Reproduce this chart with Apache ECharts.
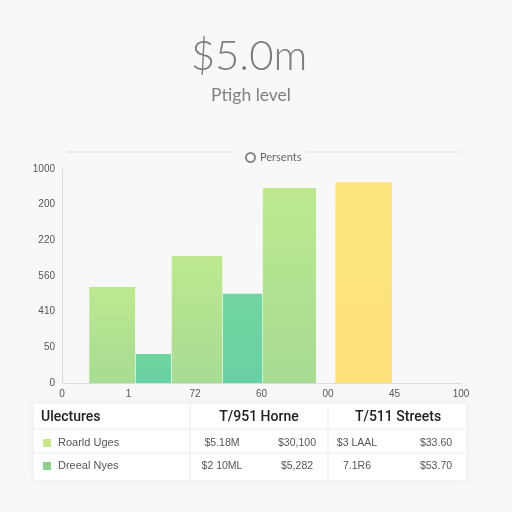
<!DOCTYPE html>
<html>
<head>
<meta charset="utf-8">
<script src="https://cdn.jsdelivr.net/npm/echarts@6/dist/echarts.min.js"></script>
<style>html,body{margin:0;padding:0;background:#f8f8f8}#c{width:512px;height:512px}</style>
</head>
<body>
<div id="c"></div>
<script>
// ---- data ----
const titleText = '$5.0m';
const subtitleText = 'Ptigh level';
const seriesName = 'Persents';
const yTickLabels = ['0', '50', '410', '560', '220', '200', '1000'];
const xTickLabels = ['0', '1', '72', '60', '00', '45', '100'];
const barStart = [0.41, 1.11, 1.65, 2.42, 3.02, 4.11];
const barEnd = [1.10, 1.64, 2.41, 3.01, 3.82, 4.96];
const barValues = [269, 81, 356, 250, 547, 563];
const barKinds = [0, 1, 0, 1, 0, 2];
const tableHeaders = ['Ulectures', 'T/951 Horne', 'T/511 Streets'];
const rowNames = ['Roarld Uges', 'Dreeal Nyes'];
const rowValues = [
  ['$5.18M', '$30,100', '$3 LAAL', '$33.60'],
  ['$2 10ML', '$5,282', '7.1R6', '$53.70']
];
// ---- styles ----
const kindColors = [
  new echarts.graphic.LinearGradient(0, 0, 0, 1, [{offset: 0, color: '#bde88f'}, {offset: 1, color: '#a7dc93'}]),
  new echarts.graphic.LinearGradient(0, 0, 0, 1, [{offset: 0, color: '#70d5a0'}, {offset: 1, color: '#68d0a3'}]),
  new echarts.graphic.LinearGradient(0, 0, 0, 1, [{offset: 0, color: '#fde57e'}, {offset: 1, color: '#fde07a'}])
];
const squareColors = ['#c9e78b', '#8ecf90'];

const chart = echarts.init(document.getElementById('c'));

const data = barValues.map((v, i) => [barStart[i], barEnd[i], v, barKinds[i]]);

const graphics = [];
// title texts
graphics.push({type: 'text', x: 249, y: 56, style: {text: titleText, fontFamily: 'Lato', fontWeight: 300, fontSize: 42, fill: '#7e7e7e', align: 'center', verticalAlign: 'middle'}});
graphics.push({type: 'text', x: 251, y: 95, style: {text: subtitleText, fontFamily: 'Lato', fontWeight: 400, fontSize: 17.5, fill: '#808080', align: 'center', verticalAlign: 'middle'}});
// legend decorative lines
graphics.push({type: 'line', shape: {x1: 67, y1: 152, x2: 232, y2: 152}, style: {stroke: '#dedede', lineWidth: 1}});
graphics.push({type: 'line', shape: {x1: 305, y1: 152, x2: 460, y2: 152}, style: {stroke: '#dedede', lineWidth: 1}});
// table card
graphics.push({type: 'rect', shape: {x: 34, y: 404, width: 432, height: 76, r: 2}, style: {fill: '#ffffff', shadowBlur: 8, shadowColor: 'rgba(0,0,0,0.06)'}});
[429, 453].forEach(y => graphics.push({type: 'line', shape: {x1: 34, y1: y, x2: 466, y2: y}, style: {stroke: '#ececec', lineWidth: 1}}));
[190, 328].forEach(x => graphics.push({type: 'line', shape: {x1: x, y1: 404, x2: x, y2: 480}, style: {stroke: '#ececec', lineWidth: 1}}));
const headerX = [41, 259, 398];
tableHeaders.forEach((h, i) => graphics.push({type: 'text', x: headerX[i], y: 417, style: {text: h, fontFamily: 'Roboto', fontSize: 14, fontWeight: 500, fill: '#222', align: i === 0 ? 'left' : 'center', verticalAlign: 'middle'}}));
const rowY = [443, 466];
const colX = [222, 297, 357, 436];
rowNames.forEach((n, r) => {
  graphics.push({type: 'rect', shape: {x: 43, y: rowY[r] - 4, width: 8, height: 8}, style: {fill: squareColors[r]}});
  graphics.push({type: 'text', x: 58, y: rowY[r], style: {text: n, fontFamily: 'Liberation Sans', fontSize: 11, fill: '#555', align: 'left', verticalAlign: 'middle'}});
  rowValues[r].forEach((v, c) => graphics.push({type: 'text', x: colX[c], y: rowY[r], style: {text: v, fontFamily: 'Liberation Sans', fontSize: 10.5, fill: '#555', align: 'center', verticalAlign: 'middle'}}));
});

chart.setOption({
  backgroundColor: '#f8f8f8',
  animation: false,
  graphic: graphics,
  legend: {
    top: 147, left: 240,
    itemWidth: 9, itemHeight: 9, itemGap: 6,
    textStyle: {fontFamily: 'Lato', fontSize: 11, color: '#666'},
    data: [{name: seriesName, icon: 'emptyCircle', itemStyle: {color: '#888', borderColor: '#888', borderWidth: 0.8}}]
  },
  grid: {left: 62, right: 51, top: 169, bottom: 129},
  xAxis: {
    type: 'value', min: 0, max: 6, interval: 1,
    axisLine: {show: true, lineStyle: {color: '#dcdcdc'}},
    axisTick: {show: false},
    splitLine: {show: false},
    axisLabel: {margin: 6, fontSize: 10, color: '#555', fontFamily: 'Liberation Sans', formatter: v => xTickLabels[Math.round(v)]}
  },
  yAxis: {
    type: 'value', min: 0, max: 600, interval: 100,
    axisLine: {show: true, lineStyle: {color: '#dcdcdc'}},
    axisTick: {show: false},
    splitLine: {show: false},
    axisLabel: {margin: 7, fontSize: 10, color: '#555', fontFamily: 'Liberation Sans', formatter: v => yTickLabels[Math.round(v / 100)]}
  },
  series: [{
    name: seriesName,
    type: 'custom',
    data: data,
    encode: {x: [0, 1], y: 2},
    renderItem: function (params, api) {
      const p0 = api.coord([api.value(0), api.value(2)]);
      const p1 = api.coord([api.value(1), 0]);
      return {
        type: 'rect',
        shape: {x: p0[0], y: p0[1], width: p1[0] - p0[0], height: p1[1] - p0[1]},
        style: {fill: kindColors[api.value(3)]}
      };
    }
  }]
});
</script>
</body>
</html>
